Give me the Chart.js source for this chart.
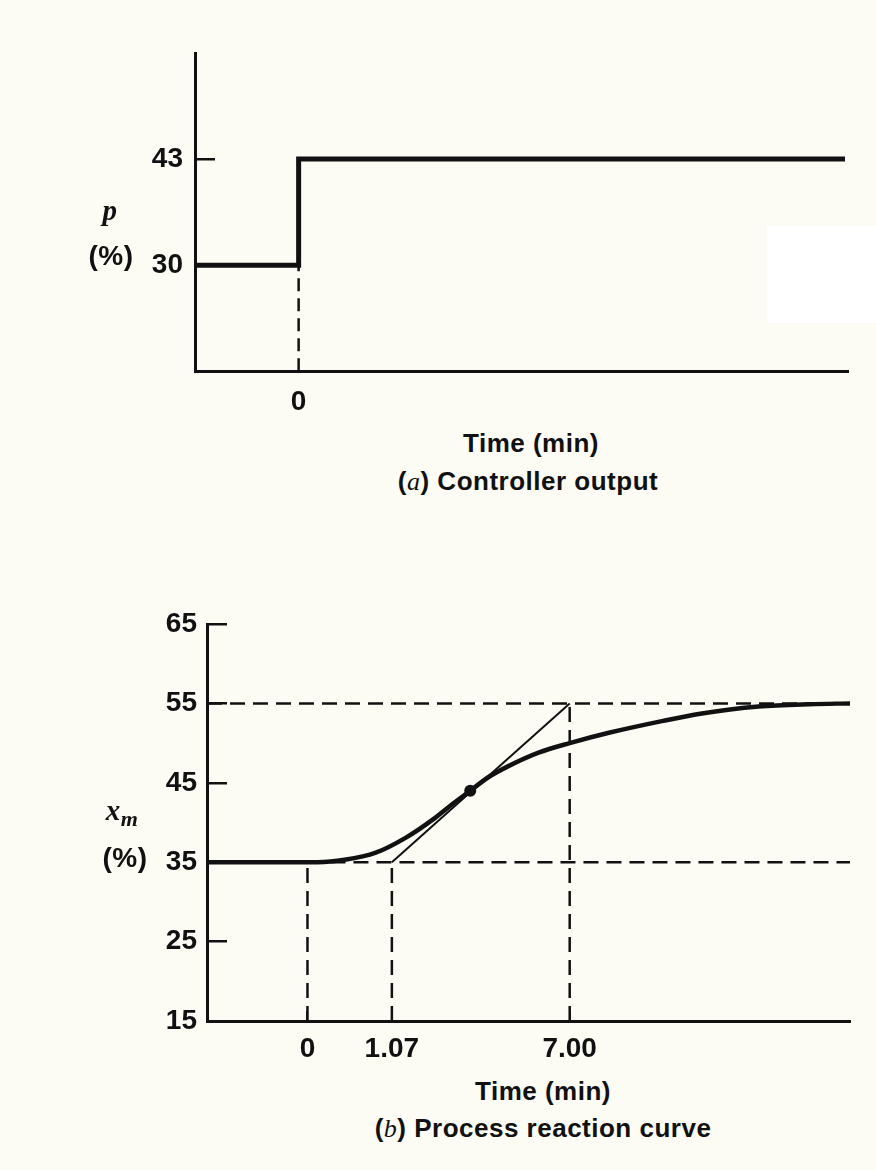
<!DOCTYPE html>
<html>
<head>
<meta charset="utf-8">
<script src="https://cdn.jsdelivr.net/npm/chart.js@4.4.1/dist/chart.umd.min.js"></script>
<style>
  html, body { margin: 0; padding: 0; background: #fcfcf4; }
  body { width: 876px; height: 1170px; position: relative; overflow: hidden;
         font-family: "Liberation Sans", Arial, sans-serif; color: #111; }
  canvas { position: absolute; left: 0; }
  .t { position: absolute; transform: translate(-50%, -50%); white-space: nowrap;
       font-weight: bold; font-size: 26px; letter-spacing: 0.5px; }
  .v { font-family: "Liberation Serif", serif; font-style: italic; font-weight: bold; }
  .patch { position: absolute; left: 767px; top: 226px; width: 109px; height: 97px; background: #fff; }
</style>
</head>
<body>
<div class="patch"></div>
<canvas id="chartA" width="876" height="420" style="top:0"></canvas>
<canvas id="chartB" width="876" height="510" style="top:560px"></canvas>

<div class="t v" style="left:110px;top:210px;font-size:29px">p</div>
<div class="t" style="left:111px;top:256px;font-size:28px">(%)</div>
<div class="t" style="left:531px;top:443px">Time (min)</div>
<div class="t" style="left:528px;top:481px">(<span class="v" style="font-weight:normal">a</span>) Controller output</div>

<div class="t v" style="left:122px;top:813px;font-size:29px">x<sub style="font-size:22px">m</sub></div>
<div class="t" style="left:125px;top:858px;font-size:28px">(%)</div>
<div class="t" style="left:543px;top:1091px">Time (min)</div>
<div class="t" style="left:543px;top:1128px">(<span class="v" style="font-weight:normal">b</span>) Process reaction curve</div>

<script>
  // (a) controller output: step from 30 % to 43 % at t = 0
  // the time axes of the figure are a sketch, not to scale, so x is in sketch units
  const stepTime = [-10.3, 0, 0, 54.3];
  const stepOutput = [30, 30, 43, 43];
  const pTicks = [30, 43];

  // (b) process reaction curve
  const curveTime = [-10, 0, 1, 3.7, 6.8, 9.8, 12.5, 14.4, 16.2, 18, 20, 23, 26.1, 30, 35.4, 39.1, 44.9, 50, 54];
  const curveXm = [35, 35, 35, 35.3, 36.2, 38.1, 40.4, 42.3, 44, 45.7, 47.1, 48.8, 50, 51.3, 52.8, 53.7, 54.6, 54.9, 55];
  const tangentTime = [8.4, 26.1];
  const tangentXm = [35, 55];
  const inflection = { x: 16.2, y: 44 };
  const timeTickAt = [0, 8.4, 26.1];
  const timeTickLabels = ['0', '1.07', '7.00'];
  const xmTicks = [15, 25, 35, 45, 55, 65];

  const black = '#111';
  const dash = [15, 8];
  const tickFont = { family: '"Liberation Sans", Arial, sans-serif', size: 28, weight: 'bold' };
  const xy = (xs, ys) => xs.map((x, i) => ({ x: x, y: ys[i] }));
  const plain = { pointRadius: 0, borderColor: black, tension: 0, fill: false };

  new Chart(document.getElementById('chartA'), {
    type: 'line',
    data: {
      datasets: [
        { ...plain, data: xy(stepTime, stepOutput), borderWidth: 5 },
        { ...plain, data: xy([0, 0], [17, stepOutput[1]]), borderWidth: 2.5, borderDash: [13, 7] },
      ],
    },
    options: {
      responsive: false,
      animation: false,
      layout: { padding: { top: 53, right: 28, left: 0, bottom: 0 } },
      plugins: { legend: { display: false }, tooltip: { enabled: false } },
      scales: {
        x: {
          type: 'linear',
          min: -10.3,
          max: 54.6,
          afterBuildTicks: (s) => { s.ticks = [{ value: 0 }]; },
          afterFit: (s) => { s.height = 44; },
          ticks: { padding: 14, font: tickFont, color: black, autoSkip: false, maxRotation: 0, callback: () => '0' },
          grid: { drawOnChartArea: false, drawTicks: false },
          border: { color: black, width: 3 },
        },
        y: {
          min: 17,
          max: 56,
          afterBuildTicks: (s) => { s.ticks = pTicks.map((v) => ({ value: v })); },
          afterFit: (s) => { s.width = 195; },
          ticks: { padding: 32, font: tickFont, color: black },
          grid: { drawOnChartArea: false, tickLength: -20, color: black, lineWidth: 2.5 },
          border: { color: black, width: 3 },
        },
      },
    },
  });

  const tMin = -10, tMax = 54;
  new Chart(document.getElementById('chartB'), {
    type: 'line',
    data: {
      datasets: [
        { type: 'scatter', data: [inflection], pointRadius: 6, pointBackgroundColor: black, pointBorderWidth: 0, showLine: false },
        { ...plain, data: xy(curveTime, curveXm), borderWidth: 4.5, cubicInterpolationMode: 'monotone' },
        { ...plain, data: xy(tangentTime, tangentXm), borderWidth: 2 },
        { ...plain, data: xy([tMin, tMax], [tangentXm[1], tangentXm[1]]), borderWidth: 2.5, borderDash: dash },
        { ...plain, data: xy([timeTickAt[0], tMax], [tangentXm[0], tangentXm[0]]), borderWidth: 2.5, borderDash: dash },
        { ...plain, data: xy([timeTickAt[0], timeTickAt[0]], [xmTicks[0], tangentXm[0]]), borderWidth: 2.5, borderDash: dash },
        { ...plain, data: xy([timeTickAt[1], timeTickAt[1]], [xmTicks[0], tangentXm[0]]), borderWidth: 2.5, borderDash: dash },
        { ...plain, data: xy([timeTickAt[2], timeTickAt[2]], [xmTicks[0], tangentXm[1]]), borderWidth: 2.5, borderDash: dash },
      ],
    },
    options: {
      responsive: false,
      animation: false,
      layout: { padding: { top: 64, right: 26, left: 0, bottom: 0 } },
      plugins: { legend: { display: false }, tooltip: { enabled: false } },
      scales: {
        x: {
          type: 'linear',
          min: tMin,
          max: tMax,
          afterBuildTicks: (s) => { s.ticks = timeTickAt.map((v) => ({ value: v })); },
          afterFit: (s) => { s.height = 49; },
          ticks: { padding: 21, font: tickFont, color: black, autoSkip: false, maxRotation: 0,
                   callback: (v, i) => timeTickLabels[i] },
          grid: { drawOnChartArea: false, tickLength: -10, color: black, lineWidth: 2 },
          border: { color: black, width: 3 },
        },
        y: {
          min: xmTicks[0],
          max: xmTicks[xmTicks.length - 1],
          afterBuildTicks: (s) => { s.ticks = xmTicks.map((v) => ({ value: v })); },
          afterFit: (s) => { s.width = 207; },
          ticks: { padding: 30, font: tickFont, color: black },
          grid: { drawOnChartArea: false, tickLength: -20, color: black, lineWidth: 2.5 },
          border: { color: black, width: 3 },
        },
      },
    },
  });
</script>
</body>
</html>
